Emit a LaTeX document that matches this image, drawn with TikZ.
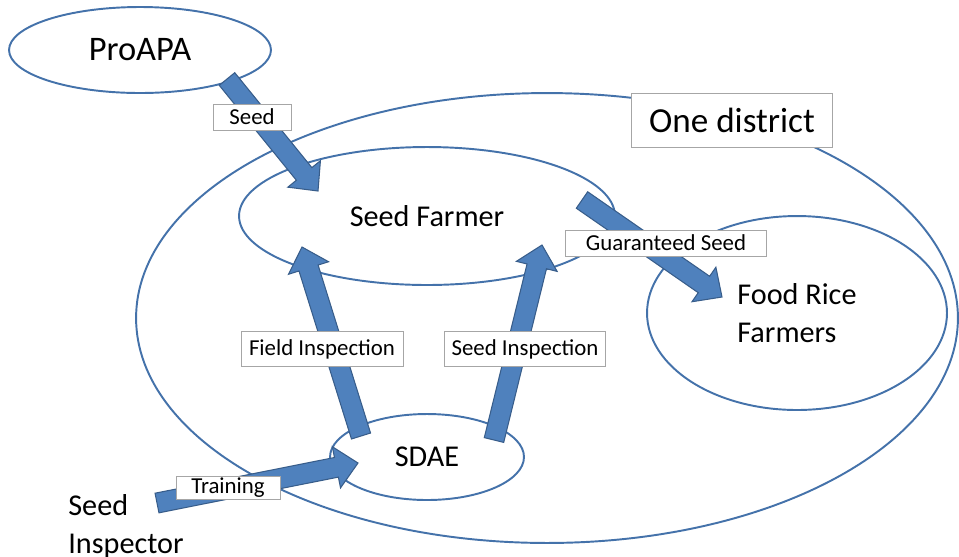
\documentclass[tikz,border=0pt]{standalone}
\usepackage{fontspec}
\setmainfont{Carlito}
\usetikzlibrary{calc,shapes.geometric}

\definecolor{rimblue}{RGB}{68,114,170}
\definecolor{flowfill}{RGB}{79,129,189}
\definecolor{flowline}{RGB}{56,93,138}

\tikzset{
  group/.style={ellipse, draw=rimblue, line width=1.1pt, inner sep=0pt},
  flow/.style={fill=flowfill, draw=flowline, line width=0.6pt, line join=miter},
  tag/.style={draw=gray!70, fill=white, line width=0.5pt, inner sep=0pt,
    font=\fontsize{13}{15}\selectfont},
  big/.style={font=\fontsize{17.2}{21.5}\selectfont},
}

% block arrow from #1 (tail) to #2 (tip)
\newcommand{\flowarrow}[2]{%
  \path ($(#2)!0.44cm!(#1)$) coordinate (fa-base);
  \draw[flow] ($(#1)!0.2cm!90:(#2)$) -- ($(fa-base)!0.2cm!-90:(#1)$)
    -- ($(fa-base)!0.42cm!-90:(#1)$) -- (#2)
    -- ($(fa-base)!0.42cm!90:(#1)$) -- ($(fa-base)!0.2cm!90:(#1)$)
    -- ($(#1)!0.2cm!-90:(#2)$) -- cycle;}

\begin{document}
\begin{tikzpicture}[x=0.02cm, y=-0.02cm]
\useasboundingbox (0,0) rectangle (959,556);

% groups
\node[group, minimum width=16.44cm, minimum height=9cm] (district) at (547,318) {};
\node[group, minimum width=5.24cm, minimum height=1.72cm,
  font=\fontsize{19.6}{24}\selectfont] (proapa) at (140,50) {ProAPA};
\node[group, big, minimum width=7.52cm, minimum height=2.76cm] (farmer) at (427,216) {Seed Farmer};
\node[group, big, align=left, minimum width=6cm, minimum height=3.88cm] (food) at (797,313) {Food Rice\\Farmers};
\node[group, big, minimum width=3.88cm, minimum height=1.72cm] (sdae) at (427,457) {SDAE};
\node[big, align=left, anchor=north west, inner sep=0pt] (inspector) at (68,494) {Seed\\Inspector};

% arrow ends
\coordinate (seed-from) at ($(proapa.center)+(87,29)$);
\coordinate (seed-to) at ($(farmer.center)+(-109,-25)$);
\coordinate (field-from) at ($(sdae.center)+(-66,-21)$);
\coordinate (field-to) at ($(farmer.center)+(-125,31)$);
\coordinate (check-from) at ($(sdae.center)+(67,-17)$);
\coordinate (check-to) at ($(farmer.center)+(115,29)$);
\coordinate (sale-from) at ($(farmer.center)+(155,-16)$);
\coordinate (sale-to) at ($(food.center)+(-75,-16)$);
\coordinate (train-from) at ($(inspector.north west)+(89,9)$);
\coordinate (train-to) at ($(sdae.center)+(-69,6)$);

\flowarrow{seed-from}{seed-to}
\flowarrow{field-from}{field-to}
\flowarrow{check-from}{check-to}
\flowarrow{sale-from}{sale-to}
\flowarrow{train-from}{train-to}

% labels
\node[tag, minimum width=1.56cm, minimum height=0.52cm] (seed-tag) at (252,117) {Seed};
\node[tag, minimum width=4.02cm, minimum height=0.52cm] (sale-tag) at (666,243) {Guaranteed Seed};
\node[tag, minimum width=3.24cm, minimum height=0.7cm] (field-tag) at (322,349) {Field Inspection};
\node[tag, minimum width=3.22cm, minimum height=0.7cm] (check-tag) at (525,349) {Seed Inspection};
\node[tag, minimum width=2.08cm, minimum height=0.45cm] (train-tag) at (228,488) {Training};
\node[tag, minimum width=4.02cm, minimum height=1.08cm,
  font=\fontsize{20}{24}\selectfont] (district-tag) at (732,120) {One district};
\end{tikzpicture}
\end{document}
